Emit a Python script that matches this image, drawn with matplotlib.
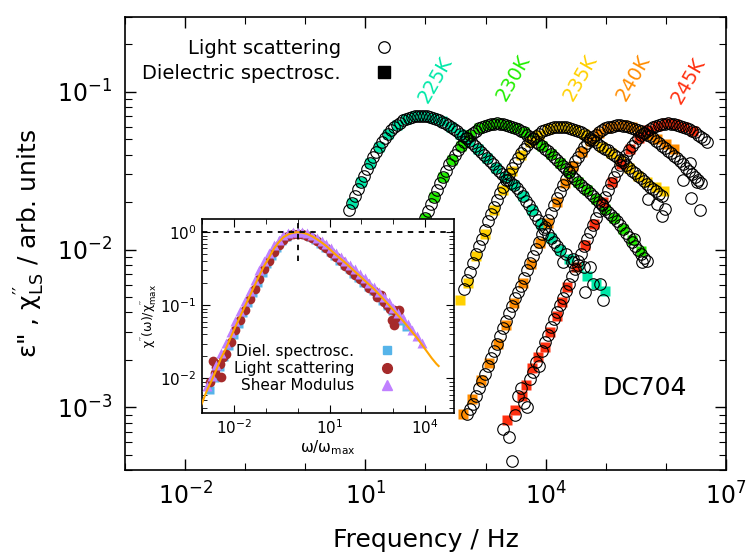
import numpy as np
import matplotlib.pyplot as plt
from matplotlib.lines import Line2D
from matplotlib.ticker import FixedLocator, LogLocator, NullFormatter

plt.rcParams['font.family'] = ['DejaVu Sans']
plt.rcParams['mathtext.default'] = 'regular'
plt.rcParams['axes.unicode_minus'] = False

# ---- main panel: log10(frequency / Hz) and log10(loss) per temperature ----
temps = ['225K', '230K', '235K', '240K', '245K']
colors = ['#00e8a8', '#22ee00', '#ffd000', '#ff8c00', '#ff3010']

# light scattering (open circles)
ls225_logf = [0.73, 0.78, 0.83, 0.88, 0.93, 0.98, 1.03, 1.08, 1.13, 1.18, 1.23, 1.28, 1.33, 1.38, 1.43,
              1.48, 1.53, 1.58, 1.63, 1.68, 1.73, 1.78, 1.83, 1.88, 1.93, 1.98, 2.03, 2.08, 2.13, 2.18,
              2.23, 2.28, 2.33, 2.38, 2.43, 2.48, 2.53, 2.58, 2.63, 2.68, 2.73, 2.78, 2.83, 2.88, 2.93,
              2.98, 3.03, 3.08, 3.13, 3.18, 3.23, 3.28, 3.33, 3.38, 3.43, 3.48, 3.53, 3.58, 3.63, 3.68,
              3.73, 3.78, 3.83, 3.88, 3.93, 3.98, 4.03, 4.08, 4.13, 4.18, 4.23, 4.29, 4.33, 4.43, 4.46,
              4.54, 4.63, 4.65, 4.74, 4.79, 4.90, 4.96]
ls225_logy = [-1.75, -1.705, -1.66, -1.615, -1.57, -1.53, -1.49, -1.45, -1.41, -1.38, -1.35, -1.32, -1.29,
              -1.265, -1.24, -1.225, -1.21, -1.195, -1.18, -1.172, -1.165, -1.16, -1.155, -1.152, -1.15,
              -1.152, -1.155, -1.16, -1.165, -1.172, -1.18, -1.188, -1.195, -1.207, -1.22, -1.235, -1.25,
              -1.265, -1.28, -1.295, -1.31, -1.327, -1.345, -1.362, -1.38, -1.40, -1.42, -1.44, -1.46,
              -1.48, -1.50, -1.52, -1.54, -1.557, -1.575, -1.592, -1.61, -1.635, -1.66, -1.69, -1.72,
              -1.75, -1.78, -1.81, -1.84, -1.87, -1.90, -1.925, -1.95, -1.975, -2.00, -2.08, -2.03, -2.08,
              -2.06, -2.10, -2.11, -2.27, -2.11, -2.22, -2.22, -2.32]

ls230_logf = [1.99, 2.04, 2.09, 2.14, 2.19, 2.24, 2.29, 2.34, 2.39, 2.44, 2.49, 2.54, 2.59, 2.64, 2.69,
              2.74, 2.79, 2.84, 2.89, 2.94, 2.99, 3.04, 3.09, 3.14, 3.19, 3.24, 3.29, 3.34, 3.39, 3.44,
              3.49, 3.54, 3.59, 3.64, 3.69, 3.74, 3.79, 3.84, 3.89, 3.94, 3.99, 4.04, 4.09, 4.14, 4.19,
              4.24, 4.29, 4.34, 4.39, 4.44, 4.49, 4.54, 4.59, 4.64, 4.69, 4.74, 4.79, 4.84, 4.89, 4.94,
              4.99, 5.04, 5.09, 5.14, 5.19, 5.24, 5.29, 5.34, 5.39, 5.44, 5.49, 5.54, 5.59, 5.64, 5.69,
              5.47, 5.60]
ls230_logy = [-1.80, -1.755, -1.71, -1.665, -1.62, -1.58, -1.54, -1.50, -1.46, -1.43, -1.40, -1.37, -1.34,
              -1.315, -1.29, -1.275, -1.26, -1.245, -1.23, -1.222, -1.215, -1.21, -1.205, -1.202, -1.20,
              -1.202, -1.205, -1.21, -1.215, -1.222, -1.23, -1.237, -1.245, -1.257, -1.27, -1.285, -1.30,
              -1.315, -1.33, -1.345, -1.36, -1.377, -1.395, -1.412, -1.43, -1.45, -1.47, -1.49, -1.51,
              -1.53, -1.55, -1.57, -1.59, -1.607, -1.625, -1.642, -1.66, -1.68, -1.70, -1.72, -1.74,
              -1.76, -1.78, -1.80, -1.82, -1.845, -1.87, -1.895, -1.92, -1.95, -1.98, -2.005, -2.03,
              -2.05, -2.07, -1.93, -2.08]

ls235_logf = [2.64, 2.69, 2.74, 2.79, 2.84, 2.89, 2.94, 2.99, 3.04, 3.09, 3.14, 3.19, 3.24, 3.29, 3.34,
              3.39, 3.44, 3.49, 3.54, 3.59, 3.64, 3.69, 3.74, 3.79, 3.84, 3.89, 3.94, 3.99, 4.04, 4.09,
              4.14, 4.19, 4.24, 4.29, 4.34, 4.39, 4.44, 4.49, 4.54, 4.59, 4.64, 4.69, 4.74, 4.79, 4.84,
              4.89, 4.94, 4.99, 5.04, 5.09, 5.14, 5.19, 5.24, 5.29, 5.34, 5.39, 5.44, 5.49, 5.54, 5.59,
              5.64, 5.69, 5.74, 5.79, 5.84, 5.89, 5.94, 5.70, 5.85, 5.93, 5.99]
ls235_logy = [-2.25, -2.195, -2.14, -2.085, -2.03, -1.98, -1.93, -1.875, -1.82, -1.775, -1.73, -1.685,
              -1.64, -1.60, -1.56, -1.52, -1.48, -1.45, -1.42, -1.39, -1.36, -1.335, -1.31, -1.295, -1.28,
              -1.265, -1.25, -1.242, -1.235, -1.23, -1.225, -1.222, -1.22, -1.222, -1.225, -1.23, -1.235,
              -1.242, -1.25, -1.257, -1.265, -1.277, -1.29, -1.305, -1.32, -1.335, -1.35, -1.36, -1.37,
              -1.385, -1.40, -1.415, -1.43, -1.447, -1.465, -1.482, -1.50, -1.515, -1.53, -1.547, -1.565,
              -1.582, -1.60, -1.615, -1.63, -1.645, -1.66, -1.68, -1.71, -1.785, -1.74]

ls240_logf = [2.69, 2.74, 2.79, 2.84, 2.89, 2.94, 2.99, 3.04, 3.09, 3.14, 3.19, 3.24, 3.29, 3.34, 3.39,
              3.44, 3.49, 3.54, 3.59, 3.64, 3.69, 3.74, 3.79, 3.84, 3.89, 3.94, 3.99, 4.04, 4.09, 4.14,
              4.19, 4.24, 4.29, 4.34, 4.39, 4.44, 4.49, 4.54, 4.59, 4.64, 4.69, 4.74, 4.79, 4.84, 4.89,
              4.94, 4.99, 5.04, 5.09, 5.14, 5.19, 5.24, 5.29, 5.34, 5.39, 5.44, 5.49, 5.54, 5.59, 5.64,
              5.69, 5.74, 5.79, 5.84, 5.89, 5.94, 5.99, 6.04, 6.09, 6.14, 6.19, 6.24, 6.29, 6.34, 6.39,
              6.44, 6.49, 6.54, 6.59, 6.28, 6.40, 6.52, 6.42, 6.57]
ls240_logy = [-3.04, -3.01, -2.98, -2.93, -2.88, -2.835, -2.79, -2.74, -2.69, -2.645, -2.60, -2.55, -2.50,
              -2.45, -2.40, -2.355, -2.31, -2.27, -2.23, -2.18, -2.13, -2.085, -2.04, -1.995, -1.95, -1.90,
              -1.855, -1.81, -1.765, -1.72, -1.675, -1.632, -1.59, -1.55, -1.51, -1.475, -1.44, -1.41,
              -1.38, -1.352, -1.325, -1.305, -1.285, -1.27, -1.255, -1.242, -1.23, -1.225, -1.22, -1.215,
              -1.21, -1.21, -1.213, -1.216, -1.22, -1.226, -1.233, -1.241, -1.25, -1.26, -1.27, -1.282,
              -1.295, -1.31, -1.325, -1.34, -1.355, -1.372, -1.39, -1.405, -1.42, -1.44, -1.46, -1.48,
              -1.50, -1.52, -1.54, -1.56, -1.58, -1.56, -1.45, -1.57, -1.67, -1.75]

ls245_logf = [3.29, 3.39, 3.44, 3.49, 3.54, 3.59, 3.64, 3.69, 3.74, 3.79, 3.84, 3.89, 3.94, 3.99, 4.04,
              4.09, 4.14, 4.19, 4.24, 4.29, 4.34, 4.39, 4.44, 4.49, 4.54, 4.59, 4.64, 4.69, 4.74, 4.79,
              4.84, 4.89, 4.94, 4.99, 5.04, 5.09, 5.14, 5.19, 5.24, 5.29, 5.34, 5.39, 5.44, 5.49, 5.54,
              5.59, 5.64, 5.69, 5.74, 5.79, 5.84, 5.89, 5.94, 5.99, 6.04, 6.09, 6.14, 6.19, 6.24, 6.29,
              6.34, 6.39, 6.44, 6.49, 6.54, 6.59, 6.64, 6.69]
ls245_logy = [-3.14, -3.19, -3.34, -3.05, -2.93, -2.88, -2.97, -3.00, -2.82, -2.775, -2.71, -2.74, -2.64,
              -2.585, -2.54, -2.49, -2.44, -2.395, -2.35, -2.305, -2.26, -2.215, -2.17, -2.12, -2.07,
              -2.025, -1.98, -1.935, -1.89, -1.845, -1.80, -1.755, -1.71, -1.665, -1.62, -1.58, -1.54,
              -1.50, -1.465, -1.43, -1.40, -1.37, -1.342, -1.315, -1.295, -1.275, -1.26, -1.245, -1.233,
              -1.222, -1.216, -1.21, -1.206, -1.202, -1.20, -1.202, -1.206, -1.21, -1.216, -1.222, -1.23,
              -1.237, -1.247, -1.257, -1.27, -1.285, -1.30, -1.315]

# dielectric spectroscopy (filled squares)
ds225_logf = [0.78, 0.93, 1.08, 1.23, 1.38, 1.53, 1.68, 1.83, 1.98, 2.13, 2.28, 2.43, 2.58, 2.73, 2.88,
              3.03, 3.18, 3.33, 3.48, 3.63, 3.78, 3.93, 4.08, 4.23, 4.38, 4.53, 4.68, 4.83, 4.98]
ds225_logy = [-1.705, -1.57, -1.45, -1.35, -1.265, -1.21, -1.172, -1.155, -1.152, -1.165, -1.187, -1.22,
              -1.265, -1.31, -1.362, -1.42, -1.48, -1.54, -1.59, -1.66, -1.75, -1.84, -1.925, -2.00, -2.06,
              -2.11, -2.165, -2.22, -2.265]

ds230_logf = [1.99, 2.14, 2.29, 2.44, 2.59, 2.74, 2.89, 3.04, 3.19, 3.34, 3.49, 3.64, 3.79, 3.94, 4.09,
              4.24, 4.39, 4.54, 4.69, 4.84, 4.99, 5.14, 5.29, 5.44, 5.59]
ds230_logy = [-1.80, -1.665, -1.54, -1.43, -1.34, -1.275, -1.23, -1.21, -1.20, -1.21, -1.23, -1.257, -1.30,
              -1.345, -1.395, -1.45, -1.51, -1.57, -1.625, -1.68, -1.74, -1.80, -1.87, -1.94, -2.01]

ds235_logf = [2.57, 2.71, 2.84, 2.99, 3.14, 3.29, 3.44, 3.59, 3.74, 3.89, 4.04, 4.19, 4.34, 4.49, 4.64,
              4.79, 4.94, 5.09, 5.24, 5.39, 5.54, 5.69, 5.84, 5.96]
ds235_logy = [-2.32, -2.21, -2.04, -1.90, -1.75, -1.62, -1.50, -1.40, -1.32, -1.27, -1.235, -1.222, -1.225,
              -1.24, -1.265, -1.30, -1.35, -1.39, -1.43, -1.48, -1.53, -1.57, -1.60, -1.63]

ds240_logf = [2.62, 2.78, 2.92, 3.06, 3.20, 3.34, 3.48, 3.62, 3.76, 3.90, 4.04, 4.18, 4.32, 4.46, 4.60,
              4.74, 4.88, 5.02, 5.16, 5.30, 5.44, 5.58, 5.72, 5.86, 6.00, 6.14]
ds240_logy = [-3.04, -2.95, -2.83, -2.72, -2.60, -2.48, -2.34, -2.21, -2.09, -1.96, -1.83, -1.70, -1.58,
              -1.47, -1.38, -1.31, -1.26, -1.23, -1.215, -1.21, -1.22, -1.245, -1.27, -1.30, -1.33, -1.36]

ds245_logf = [3.35, 3.49, 3.60, 3.68, 3.77, 3.87, 3.99, 4.07, 4.18, 4.27, 4.35, 4.50, 4.65, 4.80, 4.95,
              5.10, 5.25, 5.40, 5.55, 5.70, 5.85, 6.00, 6.15, 6.30, 6.45]
ds245_logy = [-3.08, -3.02, -2.93, -2.86, -2.75, -2.68, -2.62, -2.52, -2.42, -2.33, -2.24, -2.11, -1.97,
              -1.835, -1.70, -1.57, -1.455, -1.36, -1.29, -1.243, -1.214, -1.20, -1.205, -1.224, -1.248]

ls_sets = [(ls225_logf, ls225_logy), (ls230_logf, ls230_logy), (ls235_logf, ls235_logy),
           (ls240_logf, ls240_logy), (ls245_logf, ls245_logy)]
ds_sets = [(ds225_logf, ds225_logy), (ds230_logf, ds230_logy), (ds235_logf, ds235_logy),
           (ds240_logf, ds240_logy), (ds245_logf, ds245_logy)]

# temperature label anchors (axes fraction)
label_x = [0.517, 0.646, 0.757, 0.845, 0.938]
label_y = [0.862, 0.865, 0.865, 0.865, 0.858]

# ---- inset: master curve, log10(w/wmax) and log10(chi''/chi''max) ----
fit_u = [-3.02, -2.85, -2.7, -2.55, -2.4, -2.25, -2.1, -1.95, -1.8, -1.65, -1.5, -1.35, -1.2, -1.05, -0.9,
         -0.75, -0.6, -0.45, -0.3, -0.15, 0.0, 0.15, 0.3, 0.45, 0.6, 0.75, 0.9, 1.05, 1.2, 1.35, 1.5, 1.65,
         1.8, 1.95, 2.1, 2.25, 2.4, 2.55, 2.7, 2.85, 3.0, 3.15, 3.3, 3.45, 3.6, 3.75, 3.9, 4.05, 4.2, 4.35,
         4.42]
fit_v = [-2.36, -2.17, -2.03, -1.88, -1.72, -1.59, -1.44, -1.29, -1.15, -1.01, -0.87, -0.73, -0.59, -0.46,
         -0.35, -0.23, -0.14, -0.07, -0.03, -0.008, 0.0, -0.006, -0.025, -0.055, -0.095, -0.14, -0.19,
         -0.25, -0.31, -0.365, -0.42, -0.48, -0.54, -0.60, -0.66, -0.72, -0.78, -0.85, -0.92, -0.99,
         -1.065, -1.14, -1.21, -1.29, -1.37, -1.45, -1.54, -1.63, -1.72, -1.80, -1.83]

shear_u = [-2.85, -2.7, -2.55, -2.4, -2.25, -2.1, -1.95, -1.8, -1.65, -1.5, -1.35, -1.2, -1.05, -0.9, -0.75,
           -0.6, -0.45, -0.3, -0.15, 0.0, 0.15, 0.3, 0.45, 0.6, 0.75, 0.9, 1.05, 1.2, 1.35, 1.5, 1.65, 1.8,
           1.95, 2.1, 2.25, 2.4, 2.55, 2.7, 2.85, 3.0, 3.15, 3.3, 3.45, 3.6, 3.75, 3.9]
shear_v = [-2.10, -1.96, -1.81, -1.65, -1.52, -1.37, -1.22, -1.08, -0.94, -0.80, -0.66, -0.52, -0.40, -0.29,
           -0.18, -0.10, -0.04, -0.01, 0.0, 0.0, 0.0, -0.015, -0.04, -0.075, -0.115, -0.16, -0.22, -0.28,
           -0.335, -0.39, -0.45, -0.51, -0.57, -0.63, -0.69, -0.75, -0.82, -0.89, -0.96, -1.035, -1.11,
           -1.18, -1.26, -1.34, -1.42, -1.51]

lsn_u = [-2.75, -2.65, -2.6, -2.55, -2.45, -2.39, -2.34, -2.25, -2.1, -1.95, -1.8, -1.65, -1.5, -1.35, -1.2,
         -1.05, -0.9, -0.75, -0.6, -0.45, -0.3, -0.15, 0.0, 0.15, 0.3, 0.45, 0.6, 0.75, 0.9, 1.05, 1.2,
         1.35, 1.5, 1.65, 1.8, 1.95, 2.1, 2.25, 2.4, 2.49, 2.6, 2.7, 2.8, 2.9, 2.95, 3.01, 3.01, 3.1, 3.12,
         3.17]
lsn_v = [-2.05, -1.76, -1.92, -1.84, -1.80, -1.98, -1.70, -1.66, -1.50, -1.34, -1.20, -1.06, -0.92, -0.78,
         -0.64, -0.51, -0.39, -0.27, -0.17, -0.10, -0.05, -0.03, -0.02, -0.03, -0.05, -0.08, -0.12, -0.17,
         -0.22, -0.28, -0.34, -0.40, -0.46, -0.52, -0.58, -0.64, -0.70, -0.76, -0.80, -0.89, -0.86, -0.955,
         -1.0, -1.05, -1.20, -1.07, -1.27, -1.12, -1.16, -1.07]

dsn_u = [-2.75, -2.6, -2.45, -2.3, -2.15, -2.0, -1.85, -1.7, -1.55, -1.4, -1.25, -1.1, -0.95, -0.8, -0.65,
         -0.5, -0.35, -0.2, -0.05, 0.1, 0.25, 0.4, 0.55, 0.7, 0.85, 1.0, 1.15, 1.3, 1.45, 1.6, 1.75, 1.9,
         2.05, 2.2, 2.35, 2.5, 2.65, 2.8, 2.95, 3.1, 3.25, 3.4]
dsn_v = [-2.16, -2.0, -1.85, -1.70, -1.55, -1.40, -1.25, -1.11, -0.97, -0.83, -0.69, -0.56, -0.44, -0.32,
         -0.21, -0.12, -0.06, -0.03, -0.02, -0.025, -0.04, -0.07, -0.11, -0.16, -0.21, -0.27, -0.33, -0.39,
         -0.45, -0.51, -0.57, -0.63, -0.69, -0.75, -0.81, -0.87, -0.94, -1.01, -1.08, -1.15, -1.22, -1.30]


def lin(a):
    return 10.0 ** np.asarray(a)


fig = plt.figure(figsize=(7.47, 5.53), dpi=100)
ax = fig.add_axes([0.1673, 0.150, 0.8046, 0.8198])

for (f, y), c in zip(ds_sets, colors):
    ax.plot(lin(f), lin(y), 's', ms=7, color=c, mec='none', zorder=2)
for f, y in ls_sets:
    ax.plot(lin(f), lin(y), 'o', ms=8.3, mfc='none', mec='k', mew=0.8, zorder=3)

for t, c, x, y in zip(temps, colors, label_x, label_y):
    ax.text(x, y, t, transform=ax.transAxes, rotation=60, color=c, fontsize=14,
            ha='center', va='center')

ax.text(0.865, 0.181, 'DC704', transform=ax.transAxes, fontsize=18, ha='center', va='center')

ax.set_xscale('log')
ax.set_yscale('log')
ax.set_xlim(1e-3, 1e7)
ax.set_ylim(4e-4, 0.3)
ax.xaxis.set_major_locator(FixedLocator([1e-2, 1e1, 1e4, 1e7]))
ax.xaxis.set_minor_locator(FixedLocator(10.0 ** np.arange(-3, 8)))
ax.xaxis.set_minor_formatter(NullFormatter())
ax.yaxis.set_major_locator(LogLocator(base=10, numticks=10))
ax.yaxis.set_minor_locator(LogLocator(base=10, subs=np.arange(2, 10), numticks=10))
ax.yaxis.set_minor_formatter(NullFormatter())
ax.tick_params(which='both', direction='in', top=True, right=True, labelsize=17)
ax.tick_params(which='major', length=8, width=1.0, pad=9)
ax.tick_params(which='minor', length=5, width=0.8)
for s in ax.spines.values():
    s.set_linewidth(1.2)
ax.set_xlabel('Frequency / Hz', fontsize=18, labelpad=13)
ax.set_ylabel(r'ε" , $\chi^{\prime\prime}_{LS}$ / arb. units', fontsize=18, labelpad=7)

handles = [Line2D([], [], marker='o', ls='none', mfc='none', mec='k', ms=8.3, mew=0.9),
           Line2D([], [], marker='s', ls='none', color='k', ms=8)]
ax.legend(handles, ['Light scattering', 'Dielectric spectrosc.'], loc='upper left',
          bbox_to_anchor=(0.0, 0.99), frameon=False, markerfirst=False, fontsize=14,
          handlelength=2, handletextpad=1.2, labelspacing=0.3)

# inset with the rescaled master curve
ins = fig.add_axes([0.2704, 0.2537, 0.3374, 0.3497])
ins.plot(lin(dsn_u), lin(dsn_v), 's', ms=6, color='#56b4e9', mec='none', zorder=2)
ins.plot(lin(lsn_u), lin(lsn_v), 'o', ms=7, color='#a52a2a', mec='none', zorder=3)
ins.plot(lin(shear_u), lin(shear_v), '^', ms=7.5, color='#c080ff', mec='none', zorder=4)
ins.plot(lin(fit_u), lin(fit_v), '-', color='#ffa500', lw=1.5, zorder=5)
ins.axhline(1.0, color='k', ls=(0, (3, 3)), lw=1.3, zorder=6)
ins.vlines(1.0, 0.4, 1.5, color='k', linestyles=[(0, (3, 3))], lw=1.3, zorder=6)

ins.set_xscale('log')
ins.set_yscale('log')
ins.set_xlim(1e-3, 8e4)
ins.set_ylim(3.4e-3, 1.5)
ins.xaxis.set_major_locator(FixedLocator([1e-2, 1e1, 1e4]))
ins.xaxis.set_minor_locator(FixedLocator(10.0 ** np.arange(-3, 5)))
ins.xaxis.set_minor_formatter(NullFormatter())
ins.yaxis.set_major_locator(LogLocator(base=10, numticks=10))
ins.yaxis.set_minor_locator(LogLocator(base=10, subs=np.arange(2, 10), numticks=10))
ins.yaxis.set_minor_formatter(NullFormatter())
ins.tick_params(which='both', direction='in', top=True, right=True, labelsize=11)
ins.tick_params(which='major', length=6, pad=4)
ins.tick_params(which='minor', length=3.5)
for s in ins.spines.values():
    s.set_linewidth(1.2)
ins.set_xlabel(r'$\omega/\omega_{max}$', fontsize=11, labelpad=1)
ins.set_ylabel(r'$\chi^{\prime\prime}(\omega)/\chi^{\prime\prime}_{max}$', fontsize=9, labelpad=0)

ins_handles = [Line2D([], [], marker='s', ls='none', color='#56b4e9', ms=6),
               Line2D([], [], marker='o', ls='none', color='#a52a2a', ms=7),
               Line2D([], [], marker='^', ls='none', color='#c080ff', ms=7.5)]
ins.legend(ins_handles, ['Diel. spectrosc.', 'Light scattering', 'Shear Modulus'],
           loc='lower right', bbox_to_anchor=(0.85, 0.03), frameon=False, markerfirst=False,
           fontsize=11, handlelength=2, handletextpad=1.16, labelspacing=0.15)

fig.savefig('out.png', dpi=100)
